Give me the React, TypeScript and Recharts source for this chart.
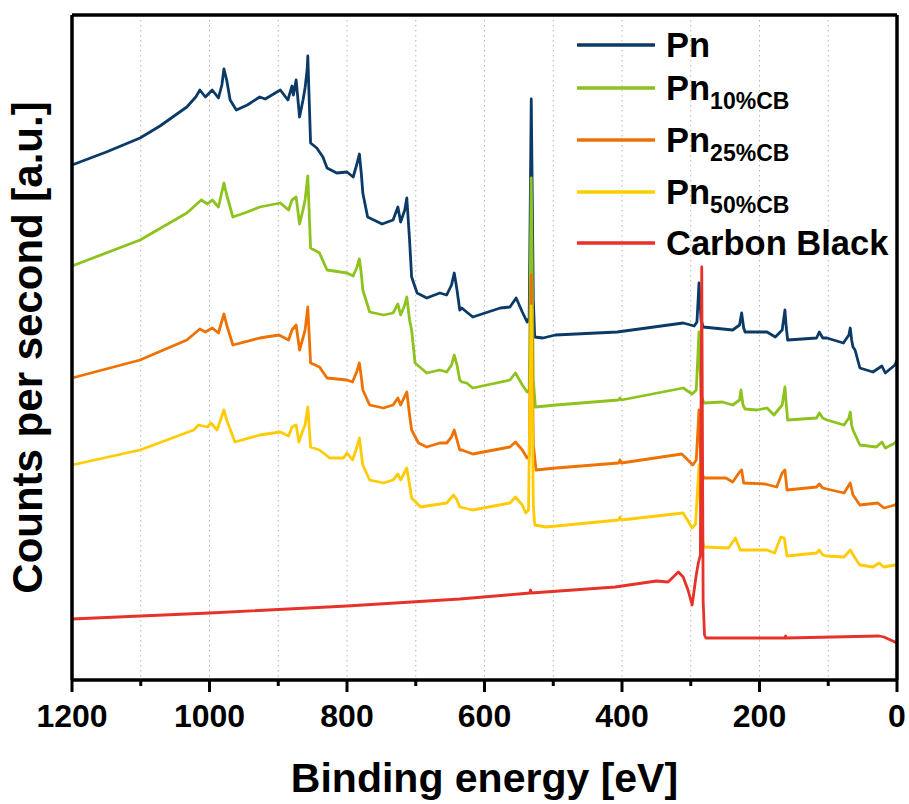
import { LineChart, Line, XAxis, YAxis, CartesianGrid, ReferenceLine } from 'recharts';

// XPS survey spectra, intensities in arbitrary units (curves offset vertically)
const pnEnergy = [
  1200, 1150, 1101, 1072, 1033, 1020, 1014, 1006, 996, 987, 982, 979, 975, 970, 961, 945, 927, 919, 897, 886,
  880, 878, 874, 869, 864, 861, 858, 857, 855, 853, 844, 835, 829, 815, 800, 791, 786, 782, 779, 777,
  770, 749, 733, 726, 722, 716, 713, 709, 706, 698, 684, 665, 655, 648, 644, 640, 636, 633, 626, 617,
  577, 563, 554, 545, 538, 535, 532, 529, 527, 515, 497, 407, 311, 295, 291, 288, 285, 282, 239, 229,
  226, 223, 221, 189, 177, 167, 163, 161, 159, 117, 113, 108, 102, 78, 70, 68, 66, 64, 61, 54,
  35, 22, 17, 3, 0,
];
const pnCounts = [
  515, 528, 542, 554, 573, 583, 590, 583, 590, 582, 595, 611, 600, 580, 570, 575, 583, 581, 590, 580,
  594, 585, 600, 563, 580, 592, 610, 624, 580, 537, 532, 523, 512, 507, 508, 503, 515, 526, 505, 487,
  463, 456, 460, 473, 458, 470, 482, 440, 403, 387, 382, 387, 385, 395, 407, 390, 370, 372, 368, 363,
  372, 373, 382, 368, 358, 362, 581, 380, 343, 342, 345, 348, 357, 354, 358, 397, 360, 353, 350, 355,
  367, 352, 348, 348, 343, 350, 370, 352, 340, 342, 348, 342, 342, 337, 345, 352, 340, 333, 330, 312,
  308, 314, 307, 315, 320,
];

const pn10Energy = [
  1200, 1101, 1033, 1012, 1003, 996, 987, 979, 975, 966, 945, 927, 897, 885, 880, 874, 869, 864, 861, 857,
  853, 840, 829, 800, 791, 786, 782, 779, 777, 767, 747, 733, 726, 722, 716, 713, 709, 706, 701, 684,
  665, 655, 648, 644, 640, 636, 633, 626, 617, 563, 555, 545, 538, 535, 532, 529, 526, 496, 405, 403,
  401, 311, 298, 292, 288, 285, 281, 254, 239, 229, 227, 224, 221, 204, 189, 179, 167, 163, 161, 159,
  117, 113, 108, 102, 77, 70, 68, 66, 64, 54, 30, 22, 17, 3, 0,
];
const pn10Counts = [
  414, 440, 467, 480, 476, 480, 473, 497, 485, 463, 468, 473, 477, 470, 480, 483, 456, 470, 480, 504,
  432, 427, 410, 407, 404, 412, 421, 405, 390, 368, 365, 367, 376, 365, 375, 383, 360, 350, 317, 307,
  310, 308, 315, 325, 315, 300, 298, 297, 292, 300, 307, 295, 288, 290, 502, 300, 273, 275, 280, 282,
  280, 292, 286, 290, 348, 285, 277, 278, 275, 280, 290, 275, 271, 270, 272, 265, 275, 293, 275, 260,
  262, 267, 262, 260, 255, 262, 268, 255, 250, 235, 233, 238, 232, 237, 240,
];

const pn25Energy = [
  1200, 1101, 1033, 1014, 1006, 996, 987, 979, 975, 966, 927, 899, 885, 880, 874, 869, 864, 861, 857, 853,
  840, 829, 800, 792, 786, 782, 779, 777, 767, 747, 733, 726, 722, 713, 709, 706, 696, 684, 665, 655,
  648, 644, 640, 636, 633, 617, 563, 555, 545, 538, 535, 532, 529, 525, 496, 405, 403, 401, 313, 297,
  292, 288, 285, 281, 249, 239, 229, 226, 223, 192, 175, 167, 163, 160, 117, 113, 108, 102, 77, 68,
  64, 54, 28, 19, 3, 0,
];
const pn25Counts = [
  302, 320, 340, 351, 348, 352, 347, 366, 355, 335, 342, 345, 340, 350, 355, 330, 342, 350, 373, 317,
  313, 302, 300, 298, 308, 317, 302, 290, 275, 272, 275, 282, 275, 288, 265, 250, 237, 233, 237, 237,
  243, 250, 240, 230, 230, 226, 233, 238, 230, 222, 224, 405, 235, 210, 212, 217, 220, 217, 226, 215,
  220, 270, 210, 202, 202, 198, 208, 210, 197, 196, 193, 207, 210, 190, 193, 196, 192, 191, 187, 197,
  185, 175, 177, 172, 175, 177,
];

const pn50Energy = [
  1200, 1101, 1023, 1016, 1003, 998, 989, 979, 975, 963, 927, 897, 885, 880, 874, 870, 864, 861, 857, 853,
  840, 825, 805, 800, 792, 786, 782, 779, 777, 767, 747, 733, 726, 722, 713, 709, 706, 693, 684, 655,
  645, 640, 636, 617, 563, 555, 545, 540, 536, 532, 529, 527, 510, 405, 403, 401, 311, 298, 293, 288,
  285, 281, 245, 235, 228, 189, 178, 169, 164, 160, 117, 113, 108, 102, 77, 68, 61, 54, 35, 26,
  19, 3, 0,
];
const pn50Counts = [
  215, 230, 250, 255, 253, 257, 250, 270, 260, 238, 245, 248, 244, 253, 255, 238, 250, 255, 273, 233,
  230, 222, 222, 227, 220, 232, 242, 225, 215, 200, 197, 200, 206, 200, 212, 195, 182, 173, 174, 177,
  185, 180, 173, 170, 177, 183, 175, 167, 170, 374, 175, 155, 153, 160, 163, 160, 167, 152, 156, 215,
  150, 133, 132, 142, 130, 130, 127, 143, 142, 124, 127, 130, 125, 124, 123, 130, 122, 115, 113, 117,
  113, 115, 115,
];

const cbEnergy = [
  1200, 1000, 800, 636, 550, 534, 533, 532, 410, 350, 333, 318, 311, 304, 298, 292, 289, 286, 284, 282,
  280, 278, 163, 162, 161, 26, 19, 3, 0,
];
const cbCounts = [
  61, 67, 74, 81, 86, 87, 90, 87, 93, 99, 98, 108, 103, 90, 75, 105, 117, 125, 413, 80,
  45, 42, 42, 44, 42, 44, 43, 38, 37,
];

const energyTicks = [0, 100, 200, 300, 400, 500, 600, 700, 800, 900, 1000, 1100, 1200];

const toPoints = (energy: number[], counts: number[]) =>
  energy.map((e, i) => ({ energy: e, counts: counts[i] }));

const SERIES = [
  { key: 'pn', base: 'Pn', sub: '', color: '#0b3a66', data: toPoints(pnEnergy, pnCounts) },
  { key: 'pn10', base: 'Pn', sub: '10%CB', color: '#8dc21f', data: toPoints(pn10Energy, pn10Counts) },
  { key: 'pn25', base: 'Pn', sub: '25%CB', color: '#ee7203', data: toPoints(pn25Energy, pn25Counts) },
  { key: 'pn50', base: 'Pn', sub: '50%CB', color: '#ffcb05', data: toPoints(pn50Energy, pn50Counts) },
  { key: 'cb', base: 'Carbon Black', sub: '', color: '#e63229', data: toPoints(cbEnergy, cbCounts) },
];

const FONT = '"Liberation Sans", Arial, sans-serif';
const AXIS_LINE = { stroke: '#000', strokeWidth: 3.5 };
const LEGEND_ROWS = [45, 88, 140, 192, 243];

function EnergyTick(props: any) {
  const { x, y, payload } = props;
  const major = payload.value % 200 === 0;
  return (
    <g>
      <line x1={x} x2={x} y1={y} y2={y + (major ? 12 : 6)} stroke="#000" strokeWidth={3} />
      {major && (
        <text x={x} y={y + 47} textAnchor="middle" fontFamily={FONT} fontWeight="bold" fontSize={32} fill="#000">
          {payload.value}
        </text>
      )}
    </g>
  );
}

function XTitle(props: any) {
  const { viewBox } = props;
  return (
    <text x={viewBox.x + viewBox.width / 2} y={viewBox.y + 112} textAnchor="middle" fontFamily={FONT} fontWeight="bold" fontSize={41} fill="#000">
      Binding energy [eV]
    </text>
  );
}

function YTitle(props: any) {
  const { viewBox } = props;
  const cy = viewBox.y + viewBox.height / 2;
  return (
    <text x={42} y={cy} transform={`rotate(-90, 42, ${cy})`} textAnchor="middle" fontFamily={FONT} fontWeight="bold" fontSize={42} fill="#000">
      Counts per second [a.u.]
    </text>
  );
}

export default function App() {
  return (
    <div style={{ position: 'absolute', left: 0, top: 0, width: 909, height: 804, background: '#fff' }}>
      <LineChart width={909} height={804} margin={{ top: 15, right: 12, bottom: 0, left: 0 }}>
        <CartesianGrid horizontal={false} strokeDasharray="1.5 3.5" stroke="#b4b4b4" />
        <XAxis
          dataKey="energy"
          type="number"
          domain={[0, 1200]}
          reversed
          ticks={energyTicks}
          interval={0}
          tickSize={0}
          tickMargin={0}
          tickLine={false}
          tick={(p: any) => <EnergyTick {...p} />}
          axisLine={AXIS_LINE}
          height={124}
          label={XTitle}
        />
        <YAxis type="number" domain={[0, 665]} width={72} tick={false} tickLine={false} axisLine={AXIS_LINE} label={YTitle} />
        {SERIES.map((s) => (
          <Line
            key={s.key}
            data={s.data}
            dataKey="counts"
            type="linear"
            stroke={s.color}
            strokeWidth={2.8}
            strokeLinejoin="round"
            dot={false}
            activeDot={false}
            isAnimationActive={false}
          />
        ))}
        {/* box frame: top and right edges */}
        <ReferenceLine y={665} stroke="#000" strokeWidth={3.5} />
        <ReferenceLine x={0} stroke="#000" strokeWidth={3.5} />
      </LineChart>
      {SERIES.map((s, i) => (
        <div
          key={s.key}
          style={{ position: 'absolute', left: 577, top: LEGEND_ROWS[i] - 20, height: 40, display: 'flex', alignItems: 'center' }}
        >
          <svg width={78} height={6}>
            <line x1={0} x2={78} y1={3} y2={3} stroke={s.color} strokeWidth={3.5} />
          </svg>
          <span style={{ marginLeft: 11, fontFamily: FONT, fontWeight: 'bold', fontSize: 34.5, color: '#000', whiteSpace: 'nowrap' }}>
            {s.base}
            {s.sub && <span style={{ fontSize: 23, position: 'relative', top: 9 }}>{s.sub}</span>}
          </span>
        </div>
      ))}
    </div>
  );
}
